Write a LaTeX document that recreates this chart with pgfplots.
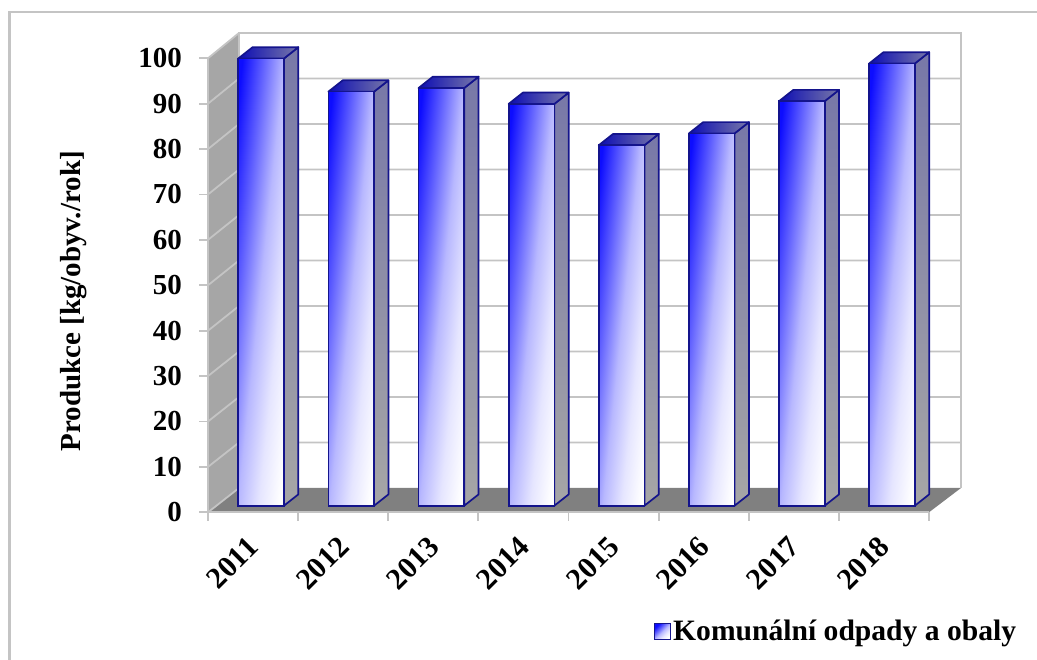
\documentclass[border=0pt]{standalone}
\usepackage{pgfplots}
\pgfplotsset{compat=1.18}
\usepackage{fontspec}
\setmainfont{Liberation Serif}
\definecolor{edge}{HTML}{14148C}
\definecolor{gridc}{HTML}{C4C4C4}
\definecolor{wallc}{HTML}{A6A6A6}
\definecolor{floorc}{HTML}{808080}
\definecolor{sidetop}{HTML}{7878A8}
\definecolor{sidebot}{HTML}{A6A6A6}
\definecolor{topl}{HTML}{0C0CB4}
\definecolor{topr}{HTML}{7878A8}
\definecolor{sa}{rgb}{0.90,0.90,1}
\definecolor{sb}{rgb}{0.72,0.72,1}
\definecolor{sc}{rgb}{0.38,0.38,1}
\definecolor{sd}{rgb}{0.05,0.05,1}
\pgfdeclareverticalshading{barshade}{100bp}{%
  color(0bp)=(white);
  color(25bp)=(white);
  color(37.5bp)=(sa);
  color(50bp)=(sb);
  color(62.5bp)=(sc);
  color(75bp)=(sd);
  color(100bp)=(sd)}
\newcommand\cube[2]{%
  \pgfmathsetmacro\xl{#1+0.336}%
  \pgfmathsetmacro\xr{#1+0.843}%
  \pgfmathsetmacro\xb{#1+0.843+0.159}%
  \pgfmathsetmacro\xlb{#1+0.336+0.159}%
  \pgfmathsetmacro\xc{#1+0.5}%
  \pgfmathsetmacro\yf{1.454}%
  \pgfmathsetmacro\yb{1.454+2.49}%
  \pgfmathsetmacro\ytf{1.454+#2}%
  \pgfmathsetmacro\ytb{1.454+2.49+#2}%
  \edef\doit{%
    \noexpand\addplot[forget plot,draw=edge,line width=1.7pt,line join=round,top color=sidetop,bottom color=sidebot,shading angle=0]
      coordinates {(\xr,\yf) (\xb,\yb) (\xb,\ytb) (\xr,\ytf)} -- cycle;
    \noexpand\addplot[forget plot,draw=edge,line width=1.7pt,line join=round,left color=topl,right color=topr]
      coordinates {(\xl,\ytf) (\xlb,\ytb) (\xb,\ytb) (\xr,\ytf)} -- cycle;
    \noexpand\addplot[forget plot,ybar,bar width=45.7pt,bar shift=8.08pt,yshift=6.6pt,draw=edge,line width=1.7pt,shade,shading=barshade,shading angle=84]
      coordinates {(\xc,#2)};
  }\doit}
\begin{document}
\begin{tikzpicture}[x=1pt,y=1pt]
\path[use as bounding box] (0,0) rectangle (1037,660);
% outer frame
\draw[gridc,line width=2.6pt] (9.5,0) -- (9.5,648) -- (1037,648);
% back wall, left wall, floor
\fill[wallc] (208,147.7) -- (239,172) -- (239,627) -- (208,601.7) -- cycle;
\fill[floorc] (208,147.7) -- (929,147.7) -- (961,172) -- (239,172) -- cycle;
\foreach \v in {10,20,...,100}{
  \pgfmathsetmacro\yf{147.7+4.54*\v}
  \pgfmathsetmacro\yb{172+4.55*\v}
  \draw[gridc,line width=1.8pt] (208,\yf) -- (239,\yb) -- (961,\yb);
}
\foreach \v in {0,10,...,100}{
  \pgfmathsetmacro\yf{147.7+4.54*\v}
  \draw[gridc,line width=1.8pt] (199,\yf) -- (208,\yf);
}
\foreach \i in {0,...,8}{
  \pgfmathsetmacro\xf{208+90.125*\i}
  \draw[gridc,line width=1.8pt] (\xf,147.7) -- (\xf,138.7);
}
\draw[gridc,line width=1.8pt] (208,147.7) -- (239,172);
\draw[gridc,line width=2.2pt] (208,147.7) -- (208,601.7);
\draw[gridc,line width=2.2pt] (239,172) -- (239,627) -- (961,627) -- (961,172);
\draw[gridc,line width=1.8pt] (208,147.7) -- (929,147.7);
\begin{axis}[
  at={(208pt,147.7pt)},anchor=south west,
  scale only axis,width=721pt,height=454pt,
  xmin=0,xmax=8,ymin=0,ymax=100,
  clip=false,
  axis line style={draw=none},
  tickpos=left,tick align=outside,
  /pgf/number format/assume math mode=true,
  ytick={0,10,...,100},
  xtick={0.5,1.5,...,7.5},
  xticklabels={2011,2012,2013,2014,2015,2016,2017,2018},
  major tick style={draw=none},
  major tick length=9pt,
  ticklabel style={font=\bfseries\fontsize{29}{29}\selectfont},
  yticklabel style={inner sep=0pt,anchor=east,xshift=-17pt},
  xticklabel style={inner sep=0pt,rotate=45,anchor=center,xshift=-44pt,yshift=-14.8pt,font=\bfseries\fontsize{30}{30}\selectfont},
  ylabel={Produkce [kg/obyv./rok]},
  ylabel style={font=\bfseries\fontsize{29}{29}\selectfont,at={(-134.5pt,211pt)},anchor=center,rotate=0},
  legend style={draw=none,fill=none,at={(446pt,-119pt)},anchor=west,inner sep=0pt,
    font=\bfseries\fontsize{29.6}{29.6}\selectfont,
    nodes={inner xsep=2pt},
    /tikz/every even column/.style={column sep=3pt}},
]
\addlegendimage{legend image code/.code={\draw[edge,line width=1pt,shade,shading=barshade,shading angle=45] (-8pt,-8pt) rectangle (8pt,8pt);}}
\addlegendentry{Komunální odpady a obaly}
\cube{0}{98.5}
\cube{1}{91.2}
\cube{2}{92.0}
\cube{3}{88.5}
\cube{4}{79.4}
\cube{5}{82.0}
\cube{6}{89.1}
\cube{7}{97.4}
\end{axis}
\end{tikzpicture}
\end{document}
